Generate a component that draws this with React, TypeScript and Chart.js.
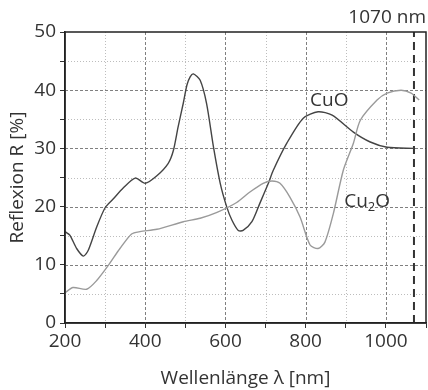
import React, { useEffect, useRef } from "react";
import { Chart, registerables } from "chart.js";

Chart.register(...registerables);

// ---- data ----
const cuoX = [200, 212, 229, 246, 258, 279, 300, 320, 345, 375, 400, 429, 457, 470, 482, 495, 504, 512, 520, 537, 553, 570, 587, 603, 616, 632, 644, 666, 686, 707, 719, 753, 794, 831, 866, 919, 961, 1003, 1070];
const cuoY = [15.7, 15.1, 12.8, 11.5, 12.5, 16.5, 19.8, 21.3, 23.2, 24.9, 24.0, 25.3, 27.4, 29.6, 33.7, 37.8, 40.9, 42.3, 42.8, 41.7, 37.7, 30.3, 24.0, 20.0, 17.7, 15.9, 15.9, 17.4, 20.6, 24.0, 26.2, 30.9, 35.2, 36.3, 35.7, 32.8, 31.1, 30.2, 30.0];
const cu2oX = [200, 220, 254, 279, 308, 337, 366, 387, 429, 495, 537, 579, 628, 661, 694, 716, 736, 761, 786, 811, 831, 848, 869, 894, 919, 936, 978, 1003, 1038, 1063, 1083];
const cu2oY = [5.2, 6.1, 5.8, 7.3, 9.9, 12.8, 15.3, 15.7, 16.1, 17.4, 18.0, 19.0, 20.7, 22.5, 24.0, 24.4, 24.0, 21.6, 18.2, 13.4, 12.8, 13.9, 18.8, 26.3, 30.9, 34.8, 38.3, 39.5, 40.0, 39.5, 38.3];
const markerX = [1070, 1070];
const markerY = [0, 50];

const xMajor = [400, 600, 800, 1000];
const xMinor = [300, 500, 700, 900];
const yMajor = [10, 20, 30, 40];
const yMinor = [5, 15, 25, 35, 45];

const xLabelValues = [200, 400, 600, 800, 1000];
const yLabelValues = [0, 10, 20, 30, 40, 50];

const markerLabel = "1070 nm";
const cuoLabel = { text: "CuO", x: 811, y: 37.3 };
const cu2oLabel = { base: "Cu", sub: "2", tail: "O", x: 896, y: 19.9 };

const FONT = "'Open Sans', 'Noto Sans', sans-serif";
const TXT = "#333";
const FS = 19;

const toPts = (xs: number[], ys: number[]) => xs.map((x, i) => ({ x, y: ys[i] }));

const decor = {
  id: "decor",
  beforeDatasetsDraw(chart: any) {
    const { ctx, chartArea: a, scales } = chart;
    const xs = scales.x, ys = scales.y;
    ctx.save();
    ctx.lineWidth = 1;
    ctx.strokeStyle = "#bdbdbd";
    ctx.setLineDash([1, 2]);
    ctx.beginPath();
    xMinor.forEach((v) => {
      const p = Math.round(xs.getPixelForValue(v)) + 0.5;
      ctx.moveTo(p, a.top); ctx.lineTo(p, a.bottom);
    });
    yMinor.forEach((v) => {
      const p = Math.round(ys.getPixelForValue(v)) + 0.5;
      ctx.moveTo(a.left, p); ctx.lineTo(a.right, p);
    });
    ctx.stroke();
    ctx.strokeStyle = "#808080";
    ctx.setLineDash([3, 2]);
    ctx.beginPath();
    xMajor.forEach((v) => {
      const p = Math.round(xs.getPixelForValue(v)) + 0.5;
      ctx.moveTo(p, a.top); ctx.lineTo(p, a.bottom);
    });
    yMajor.forEach((v) => {
      const p = Math.round(ys.getPixelForValue(v)) + 0.5;
      ctx.moveTo(a.left, p); ctx.lineTo(a.right, p);
    });
    ctx.stroke();
    ctx.restore();
  },
  afterDraw(chart: any) {
    const { ctx, chartArea: a, scales } = chart;
    const xs = scales.x, ys = scales.y;
    ctx.save();
    ctx.strokeStyle = "#222";
    ctx.lineWidth = 1.5;
    ctx.setLineDash([]);
    ctx.strokeRect(a.left, a.top, a.right - a.left, a.bottom - a.top);
    ctx.fillStyle = TXT;
    ctx.textBaseline = "alphabetic";
    ctx.font = `${FS}px ${FONT}`;
    ctx.textAlign = "right";
    ctx.fillText(markerLabel, a.right, a.top - 9);
    ctx.textAlign = "left";
    ctx.fillText(cuoLabel.text, xs.getPixelForValue(cuoLabel.x), ys.getPixelForValue(cuoLabel.y));
    let px = xs.getPixelForValue(cu2oLabel.x);
    const py = ys.getPixelForValue(cu2oLabel.y);
    ctx.fillText(cu2oLabel.base, px, py);
    px += ctx.measureText(cu2oLabel.base).width;
    ctx.font = `13px ${FONT}`;
    ctx.fillText(cu2oLabel.sub, px, py + 4);
    px += ctx.measureText(cu2oLabel.sub).width;
    ctx.font = `${FS}px ${FONT}`;
    ctx.fillText(cu2oLabel.tail, px, py);
    ctx.restore();
  },
};

export default function App() {
  const ref = useRef<HTMLCanvasElement | null>(null);
  useEffect(() => {
    document.body.style.margin = "0";
    const chart = new Chart(ref.current as HTMLCanvasElement, {
      type: "line",
      data: {
        datasets: [
          {
            label: "Cu2O",
            data: toPts(cu2oX, cu2oY),
            borderColor: "#9a9a9a",
            borderWidth: 1.4,
            pointRadius: 0,
            tension: 0.25,
            fill: false,
          },
          {
            label: "CuO",
            data: toPts(cuoX, cuoY),
            borderColor: "#444",
            borderWidth: 1.4,
            pointRadius: 0,
            tension: 0.25,
            fill: false,
          },
          {
            label: "1070 nm",
            data: toPts(markerX, markerY),
            borderColor: "#333",
            borderWidth: 2,
            borderDash: [8, 5],
            pointRadius: 0,
            fill: false,
          },
        ],
      },
      options: {
        responsive: false,
        animation: false,
        layout: { padding: { top: 32, right: 2, left: 0, bottom: 0 } },
        plugins: { legend: { display: false }, tooltip: { enabled: false } },
        scales: {
          x: {
            type: "linear",
            min: 200,
            max: 1100,
            afterFit: (s: any) => { s.height = 67; },
            ticks: {
              stepSize: 100,
              autoSkip: false,
              maxRotation: 0,
              padding: 2,
              color: TXT,
              font: { family: FONT, size: FS },
              callback: (v: any) => (xLabelValues.includes(Number(v)) ? String(v) : ""),
            },
            grid: { display: true, drawOnChartArea: false, drawTicks: true, tickLength: 5, tickColor: "#333", tickWidth: 1 },
            border: { display: true, color: "#222", width: 1.5 },
            title: { display: true, text: "Wellenlänge λ [nm]", color: TXT, font: { family: FONT, size: 19 }, padding: { top: 0, bottom: 0 } },
          },
          y: {
            type: "linear",
            min: 0,
            max: 50,
            afterFit: (s: any) => { s.width = 65; },
            ticks: {
              stepSize: 5,
              autoSkip: false,
              padding: 4,
              color: TXT,
              font: { family: FONT, size: FS },
              callback: (v: any) => (yLabelValues.includes(Number(v)) ? String(v) : ""),
            },
            grid: { display: true, drawOnChartArea: false, drawTicks: true, tickLength: 5, tickColor: "#333", tickWidth: 1 },
            border: { display: true, color: "#222", width: 1.5 },
            title: { display: true, text: "Reflexion R [%]", color: TXT, font: { family: FONT, size: 19 }, padding: { top: 6, bottom: 0 } },
          },
        },
      },
      plugins: [decor],
    });
    return () => chart.destroy();
  }, []);
  return <canvas ref={ref} width={428} height={390} style={{ display: "block" }} />;
}
